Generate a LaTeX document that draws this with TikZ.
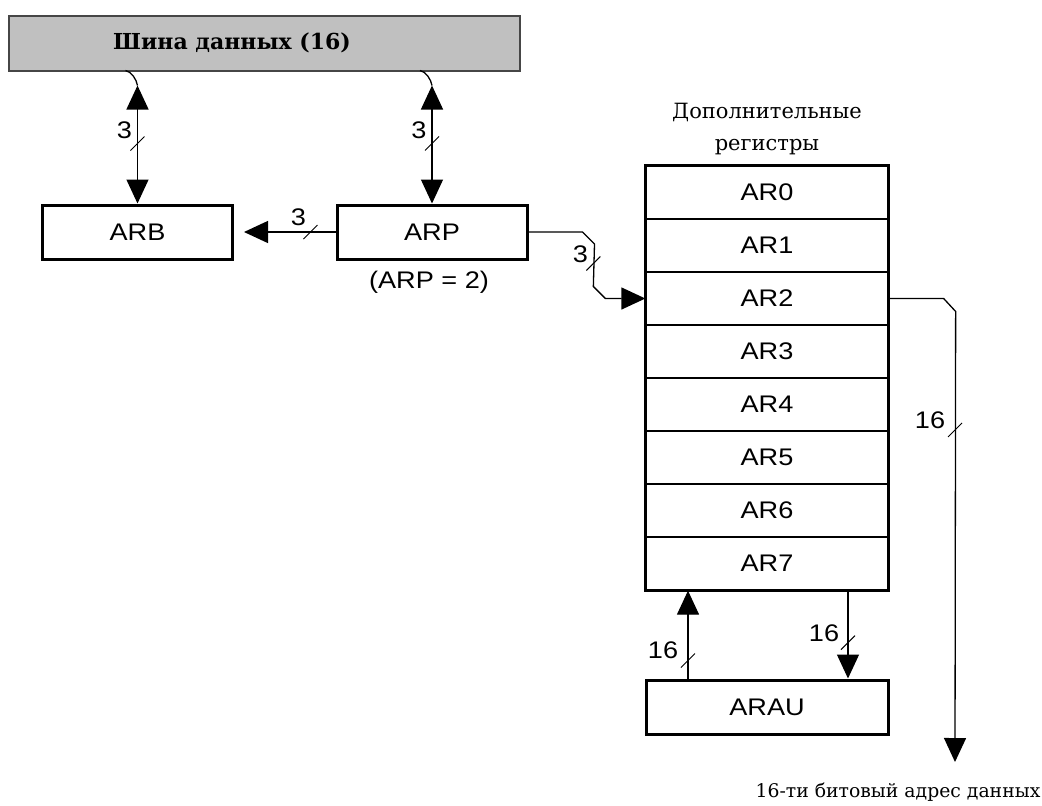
\documentclass[tikz,border=0pt]{standalone}
\usepackage{fontspec}
\setmainfont{DejaVu Serif}
\newfontfamily\labfont[FakeStretch=1.13]{Liberation Sans}
\usetikzlibrary{arrows.meta,calc}

\definecolor{busgray}{RGB}{192,192,192}
\definecolor{busedge}{RGB}{70,70,70}

\tikzset{
  wire/.style={line width=1.3pt},
  tip/.style={-{Triangle[length=24pt,width=22pt]}},
  tips/.style={{Triangle[length=24pt,width=22pt]}-{Triangle[length=24pt,width=22pt]}},
  labtext/.style={font=\labfont\fontsize{24}{24}\selectfont},
  blk/.style={draw, line width=3pt, minimum width=190pt, minimum height=54pt,
              inner sep=0pt, labtext},
  regrow/.style={draw, line width=1.3pt, minimum width=242pt, minimum height=53pt,
                 inner sep=0pt, labtext},
  width/.style={labtext, inner sep=0pt},
  busmark/.pic={\draw[line width=1pt] (-7,7) -- (7,-7);}
}

\begin{document}
\begin{tikzpicture}[x=1pt, y=-1pt]
  \useasboundingbox (0,0) rectangle (1042,806);

  % data bus
  \node[draw=busedge, fill=busgray, line width=2pt, minimum width=511pt,
        minimum height=55pt, inner sep=0pt] (bus) at (264.5,43.5) {};
  \node[font=\bfseries\fontsize{22}{22}\selectfont, inner sep=0pt] (bustitle)
        at (232,43) {Шина данных (16)};

  % pointer registers
  \node[blk] (ARB) at (137.5,232) {ARB};
  \node[blk] (ARP) at (432,232) {ARP};
  \node[width] (arpval) at (429,282) {(ARP = 2)};

  % auxiliary register file
  \foreach \i in {0,...,7}{
    \node[regrow] (AR\i) at (767,{192.5+53*\i}) {AR\i};
  }
  \draw[line width=3pt] (AR0.north west) rectangle (AR7.south east);
  \node[align=center, font=\fontsize{21}{32}\selectfont, inner sep=0pt] (reglab)
        at (767,129) {Дополнительные\\регистры};

  % address arithmetic unit
  \node[blk, minimum width=242pt] (ARAU) at (767,707) {ARAU};

  % bus <-> ARB
  \coordinate (tA) at ($(ARB.north)+(0,-118)$);
  \coordinate (hA) at ($(tA)+(-12,-15)$);
  \draw[wire] (hA) .. controls +(6,1) and +(-1,-6) .. (tA);
  \draw[wire, tips] (tA) -- (ARB.north);
  \pic at ($(ARB.north)+(0,-60)$) {busmark};
  \node[width] (lA) at ($(ARB.north)+(-13,-73)$) {3};

  % bus <-> ARP
  \coordinate (tP) at ($(ARP.north)+(0,-118)$);
  \coordinate (hP) at ($(tP)+(-12,-15)$);
  \draw[wire] (hP) .. controls +(6,1) and +(-1,-6) .. (tP);
  \draw[wire, tips] (tP) -- (ARP.north);
  \pic at ($(ARP.north)+(0,-60)$) {busmark};
  \node[width] (lP) at ($(ARP.north)+(-13,-73)$) {3};

  % ARP -> ARB
  \draw[wire, tip, shorten >=10pt] (ARP.west) -- (ARB.east);
  \pic at ($(ARP.west)+(-25,0)$) {busmark};
  \node[width] (lB) at ($(ARP.west)+(-37,-15)$) {3};

  % ARP -> selected register
  \coordinate (k1) at ($(AR2.west)+(-52,-12)$);
  \draw[wire, tip] (ARP.east) -- ++(54,0) -- ++(12,12) -- (k1) -- ++(12,12) -- (AR2.west);
  \pic at ($(k1)+(0,-23)$) {busmark};
  \node[width] (lR) at ($(k1)+(-13,-32)$) {3};

  % register -> data address
  \coordinate (out) at (955,762);
  \draw[wire, tip] (AR2.east) -- ++(55,0) -- ++(12,13) -- (out);
  \pic at (955,430) {busmark};
  \node[width] (lO) at (930,420) {16};
  \node[font=\fontsize{18.8}{19}\selectfont, inner sep=0pt] (outlab)
        at (898,792) {16-ти битовый адрес данных};

  % ARAU <-> register file
  \draw[wire, tip] ([xshift=-79pt]ARAU.north) -- ([xshift=-79pt]AR7.south);
  \pic at ($(ARAU.north)+(-79,-18)$) {busmark};
  \node[width] (lU) at ($(ARAU.north)+(-104,-28)$) {16};
  \draw[wire, tip] ([xshift=81pt]AR7.south) -- ([xshift=81pt]ARAU.north);
  \pic at ($(AR7.south)+(81,52)$) {busmark};
  \node[width] (lD) at ($(AR7.south)+(57,43)$) {16};
\end{tikzpicture}
\end{document}
